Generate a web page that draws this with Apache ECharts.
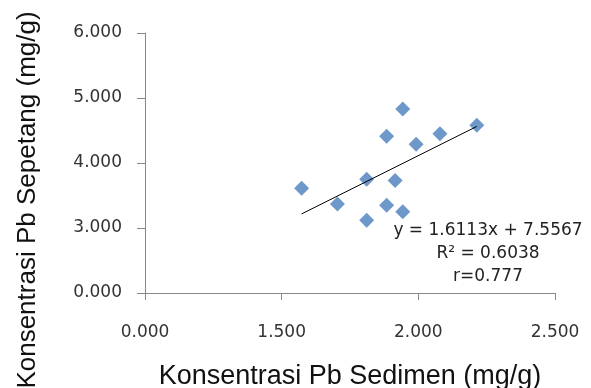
<!DOCTYPE html>
<html>
<head>
<meta charset="utf-8">
<script src="https://cdn.jsdelivr.net/npm/echarts@6/dist/echarts.min.js"></script>
<style>
  html, body { margin: 0; padding: 0; background: #fff; }
  #chart { width: 591px; height: 388px; }
</style>
</head>
<body>
<div id="chart"></div>
<script>
// Pb sedimen (x) vs Pb sepetang (y), mg/g
var sedimen = [1.573, 1.704, 1.811, 1.811, 1.884, 1.884, 1.915, 1.943, 1.943, 1.992, 2.079, 2.214]
var sepetang = [3.61, 3.37, 3.75, 3.12, 4.41, 3.35, 3.73, 4.83, 3.25, 4.29, 4.45, 4.58]
// tick labels as printed on the original axes
var xTicks = [1.0, 1.5, 2.0, 2.5]
var xTickLabels = ['0.000', '1.500', '2.000', '2.500']
var yTicks = [2, 3, 4, 5, 6]
var yTickLabels = ['0.000', '3.000', '4.000', '5.000', '6.000']
var eqLines = ['y = 1.6113x + 7.5567', 'R² = 0.6038', 'r=0.777']
var xName = 'Konsentrasi Pb Sedimen (mg/g)'
var yName = 'Konsentrasi Pb Sepetang (mg/g)'

var points = sedimen.map(function (x, i) { return [x, sepetang[i]] })

// least squares trend line through the points
var n = points.length
var sx = 0, sy = 0, sxx = 0, sxy = 0
points.forEach(function (p) {
  sx += p[0]; sy += p[1]; sxx += p[0] * p[0]; sxy += p[0] * p[1]
})
var slope = (n * sxy - sx * sy) / (n * sxx - sx * sx)
var icept = (sy - slope * sx) / n
var xMin = Math.min.apply(null, sedimen)
var xMax = Math.max.apply(null, sedimen)
var trend = [[xMin, icept + slope * xMin], [xMax, icept + slope * xMax]]

function tickLabel (ticks, labels) {
  return function (v) {
    for (var i = 0; i < ticks.length; i++) {
      if (Math.abs(ticks[i] - v) < 1e-6) return labels[i]
    }
    return ''
  }
}

var labelFont = 'DejaVu Sans'
var nameFont = 'Liberation Sans'

var myChart = echarts.init(document.getElementById('chart'))
var option = {
  animation: false,
  backgroundColor: '#fff',
  grid: {
    left: 145,
    right: 36,
    top: 33,
    bottom: 95,
    outerBoundsMode: 'none'
  },
  xAxis: {
    type: 'value',
    min: 1,
    max: 2.5,
    interval: 0.5,
    name: xName,
    nameLocation: 'middle',
    nameGap: 70,
    nameTextStyle: { fontFamily: nameFont, fontSize: 27, color: '#111' },
    axisLine: { show: true, lineStyle: { color: '#888', width: 1 } },
    axisTick: { show: true, length: 7, lineStyle: { color: '#888' } },
    axisLabel: {
      margin: 31,
      fontFamily: labelFont,
      fontSize: 17,
      color: '#333',
      formatter: tickLabel(xTicks, xTickLabels)
    },
    splitLine: { show: false }
  },
  yAxis: {
    type: 'value',
    min: 2,
    max: 6,
    interval: 1,
    axisLine: { show: true, lineStyle: { color: '#888', width: 1 } },
    axisTick: { show: true, length: 8, lineStyle: { color: '#888' } },
    axisLabel: {
      margin: 23,
      fontFamily: labelFont,
      fontSize: 17,
      color: '#333',
      formatter: tickLabel(yTicks, yTickLabels)
    },
    splitLine: { show: false }
  },
  graphic: [
    {
      // y axis title, sits lower than the plot centre in the original
      type: 'text',
      x: 28,
      y: 200,
      rotation: Math.PI / 2,
      style: {
        text: yName,
        fontFamily: nameFont,
        fontSize: 26,
        fill: '#111',
        align: 'center',
        verticalAlign: 'middle'
      }
    },
    {
      type: 'text',
      x: 488,
      y: 254,
      style: {
        text: eqLines.join('\n'),
        fontFamily: labelFont,
        fontSize: 17,
        lineHeight: 23,
        fill: '#222',
        align: 'center',
        verticalAlign: 'middle'
      }
    }
  ],
  series: [
    {
      name: 'data',
      type: 'scatter',
      symbol: 'diamond',
      symbolSize: [15, 15],
      itemStyle: { color: '#4a7ebb' },
      data: points,
      z: 3
    },
    {
      name: 'trend',
      type: 'line',
      showSymbol: false,
      symbol: 'none',
      lineStyle: { color: '#000', width: 1 },
      data: trend,
      z: 4
    }
  ]
}
myChart.setOption(option, true)
</script>
</body>
</html>
